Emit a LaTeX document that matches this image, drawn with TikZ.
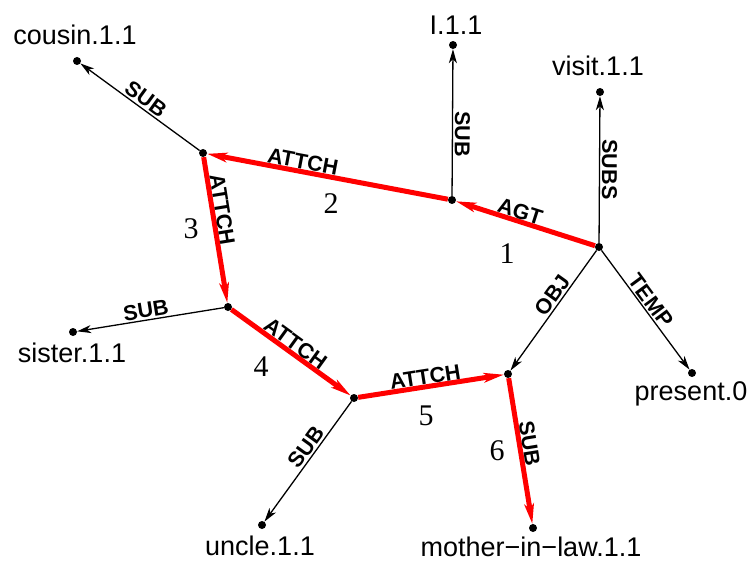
\documentclass[tikz,border=0pt]{standalone}
\usepackage{fontspec}
\setmainfont{Liberation Serif}
\setsansfont{Liberation Sans}
\usetikzlibrary{arrows.meta}
\begin{document}
\begin{tikzpicture}[x=1pt,y=1pt,
  dot/.style={circle,fill=black,inner sep=0pt,minimum size=8pt},
  word/.style={font=\sffamily\fontsize{27}{30}\selectfont,anchor=base,inner sep=0pt},
  rel/.style={font=\sffamily\bfseries\fontsize{21.5}{23}\selectfont,inner sep=2.2pt,sloped,above},
  num/.style={font=\rmfamily\fontsize{30}{32}\selectfont,inner sep=0pt},
  arc/.style={draw=black,line width=1.3pt,-{Stealth[length=14pt,width=8pt,inset=4pt]}},
  chain/.style={draw=red,line width=5pt,-{Stealth[length=20pt,width=9.5pt,inset=5pt]}},
]
\useasboundingbox (0,0) rectangle (751,-561);
% dots
\node[dot] (root) at (599,-247) {};
\node[dot] (n2) at (452,-200) {};
\node[dot] (n3) at (203,-153) {};
\node[dot] (n4) at (228,-307) {};
\node[dot] (n5) at (354,-398) {};
\node[dot] (n6) at (508,-374) {};
\node[dot] (cousin) at (77,-61) {};
\node[dot] (i) at (453,-45) {};
\node[dot] (visit) at (600,-92) {};
\node[dot] (sister) at (73,-332) {};
\node[dot] (uncle) at (262,-525) {};
\node[dot] (mil) at (533,-528) {};
\node[dot] (present) at (692,-373) {};
% words
\node[word] (tcousin) at (75,-45) {cousin.1.1};
\node[word] (ti) at (456,-35) {I.1.1};
\node[word] (tvisit) at (598,-76) {visit.1.1};
\node[word] (tsister) at (72,-362) {sister.1.1};
\node[word] (tuncle) at (260,-555) {uncle.1.1};
\node[word] (tmil) at (531,-556) {mother−in−law.1.1};
\node[word] (tpresent) at (691,-400) {present.0};
% black arcs
\draw[arc] (n3) -- (cousin);
\path (cousin) -- (n3) node[rel,pos=0.5] (lsub1) {SUB};
\draw[arc] (n2) -- (i);
\path (i) -- (n2) node[rel,allow upside down,pos=0.58] (lsub2) {SUB};
\draw[arc] (root) -- (visit);
\path (visit) -- (root) node[rel,allow upside down,pos=0.5] (lsubs) {SUBS};
\draw[arc] (root) -- (n6);
\path (n6) -- (root) node[rel,pos=0.58] (lobj) {OBJ};
\draw[arc] (root) -- (present);
\path (root) -- (present) node[rel,pos=0.47] (ltemp) {TEMP};
\draw[arc] (n4) -- (sister);
\path (sister) -- (n4) node[rel,pos=0.48] (lsub3) {SUB};
\draw[arc] (n5) -- (uncle);
\path (uncle) -- (n5) node[rel,pos=0.57] (lsub4) {SUB};
% red chain
\draw[chain] (root) -- (n2);
\path (n2) -- (root) node[rel,pos=0.44] (lagt) {AGT};
\draw[chain] (n2) -- (n3);
\path (n3) -- (n2) node[rel,pos=0.39] (la2) {ATTCH};
\draw[chain] (n3) -- (n4);
\path (n3) -- (n4) node[rel,pos=0.37] (la3) {ATTCH};
\draw[chain] (n4) -- (n5);
\path (n4) -- (n5) node[rel,pos=0.49] (la4) {ATTCH};
\draw[chain] (n5) -- (n6);
\path (n5) -- (n6) node[rel,pos=0.47] (la5) {ATTCH};
\draw[chain] (n6) -- (mil);
\path (n6) -- (mil) node[rel,pos=0.46] (lsub6) {SUB};
% numbers
\node[num] (k1) at (507,-254) {1};
\node[num] (k2) at (331,-204) {2};
\node[num] (k3) at (191,-229) {3};
\node[num] (k4) at (261,-367) {4};
\node[num] (k5) at (426,-416) {5};
\node[num] (k6) at (497,-451) {6};
\end{tikzpicture}
\end{document}
